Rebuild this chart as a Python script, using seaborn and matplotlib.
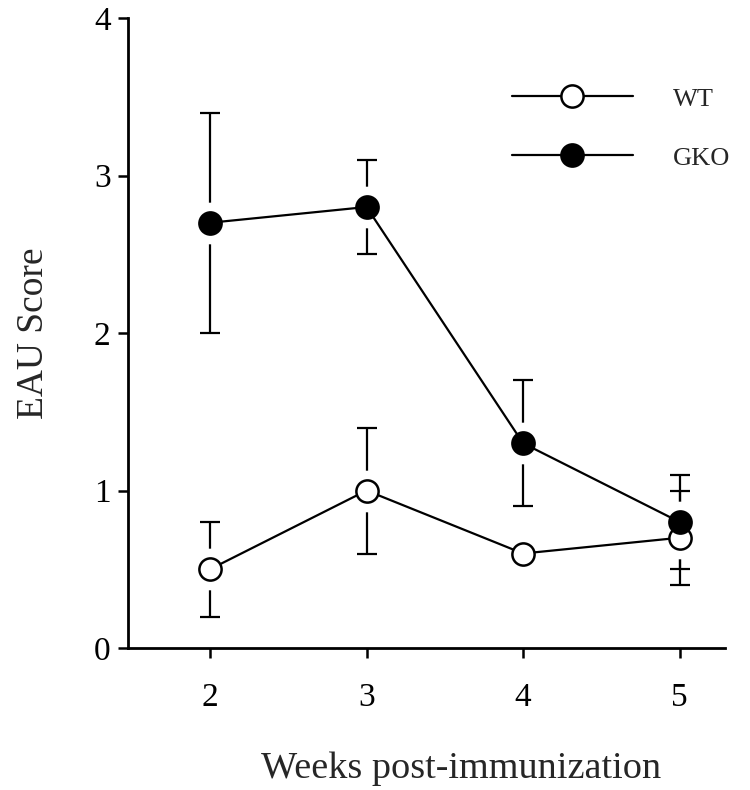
import numpy as np
import pandas as pd
import matplotlib
matplotlib.use("Agg")
import matplotlib.pyplot as plt
import seaborn as sns

weeks = [2, 3, 4, 5]
wt_mean = [0.5, 1.0, 0.6, 0.7]
wt_err = [0.3, 0.4, 0.0, 0.3]
gko_mean = [2.7, 2.8, 1.3, 0.8]
gko_err = [0.7, 0.3, 0.4, 0.3]

sns.set_style("white")
plt.rcParams["font.family"] = ["Liberation Serif", "DejaVu Serif"]

df = pd.concat([
    pd.DataFrame({"week": weeks, "score": wt_mean, "err": wt_err, "group": "WT"}),
    pd.DataFrame({"week": weeks, "score": gko_mean, "err": gko_err, "group": "GKO"}),
])

fig = plt.figure(figsize=(7.5, 7.9), dpi=100)
ax = fig.add_axes([128/750, 1 - 648/790, (725 - 128)/750, (648 - 18)/790])

fills = {"WT": "white", "GKO": "black"}
for g in ["WT", "GKO"]:
    d = df[df["group"] == g]
    # error bars behind, with a white gap around the markers
    ax.errorbar(d["week"], d["score"], yerr=d["err"], fmt="none", ecolor="black",
                elinewidth=1.6, capsize=7, capthick=1.6, zorder=1)
    ax.scatter(d["week"], d["score"], s=900, color="white", zorder=2, linewidths=0)

for g in ["WT", "GKO"]:
    d = df[df["group"] == g]
    sns.lineplot(data=d, x="week", y="score", ax=ax, color="black", lw=1.6,
                 marker="o", markersize=16, markerfacecolor=fills[g],
                 markeredgecolor="black", markeredgewidth=1.8, label=g, zorder=3)

ax.set_xlim(1.476, 5.29)
ax.set_ylim(0, 4)
ax.set_xticks(weeks)
ax.set_yticks([0, 1, 2, 3, 4])
sns.despine(ax=ax)
for s in ["left", "bottom"]:
    ax.spines[s].set_linewidth(2)
    ax.spines[s].set_color("black")
ax.tick_params(axis="both", direction="out", length=7.5, width=1.8, colors="black",
               labelsize=24, bottom=True, left=True)
ax.tick_params(axis="y", pad=5)
ax.tick_params(axis="x", pad=17)

ax.set_xlabel("Weeks post-immunization", fontsize=27.5)
ax.xaxis.set_label_coords(0.558, -0.165)
ax.set_ylabel("EAU Score", fontsize=27, labelpad=31)

ax.legend(loc="upper left", bbox_to_anchor=(0.603, 0.928), frameon=False,
          fontsize=19, handlelength=4.6, handletextpad=1.5, labelspacing=1.35)

fig.savefig("out.png", dpi=100)
